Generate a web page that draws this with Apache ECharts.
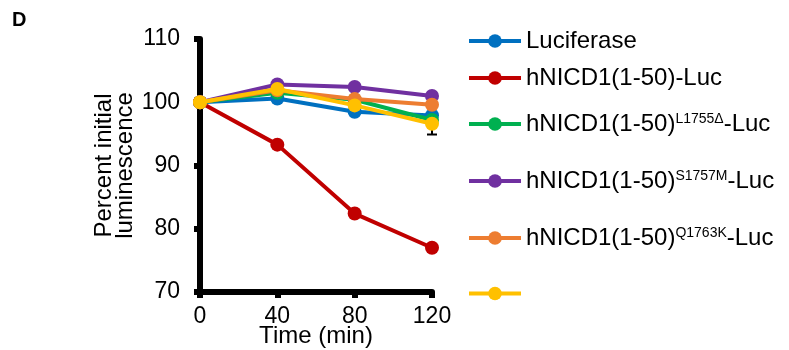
<!DOCTYPE html>
<html><head><meta charset="utf-8">
<script src="https://cdn.jsdelivr.net/npm/echarts@6/dist/echarts.min.js"></script>
<style>html,body{margin:0;padding:0;background:#fff}#c{width:789px;height:350px}</style>
</head><body><div id="c"></div>
<script>
const times = [0, 40, 80, 120];
const seriesNames = ['Luciferase', 'hNICD1(1-50)-Luc', 'hNICD1(1-50)L1755Δ-Luc', 'hNICD1(1-50)S1757M-Luc', 'hNICD1(1-50)Q1763K-Luc', ' '];
const legendLabels = ['Luciferase', '{n|hNICD1(1-50)-Luc}', '{n|hNICD1(1-50)}{sup|L1755Δ}{n|-Luc}', '{n|hNICD1(1-50)}{sup|S1757M}{n|-Luc}', '{n|hNICD1(1-50)}{sup|Q1763K}{n|-Luc}', ''];
const luciferase = [100, 100.6, 98.5, 97.9];
const hNICD1 = [100, 93.3, 82.4, 77.0];
const l1755 = [100, 101.5, 100.4, 97.2];
const s1757m = [100, 102.8, 102.4, 101.0];
const q1763k = [100, 101.9, 100.5, 99.6];
const yellow = [100, 102.1, 99.5, 96.6];
const yellowErr = [0, 0.4, 0.4, 1.7];
const colors = ['#0070C0', '#C00000', '#00B050', '#7030A0', '#ED7D31', '#FFC000'];
const yTicks = [70, 80, 90, 100, 110];
const legendTops = [24, 61, 107, 164, 221, 280];

const allData = [luciferase, hNICD1, l1755, s1757m, q1763k, yellow];
const chart = echarts.init(document.getElementById('c'));
const FONT = 'Liberation Sans, Arial, sans-serif';

const series = allData.map((d, i) => ({
  name: seriesNames[i],
  type: 'line',
  data: d.map((v, j) => [times[j], v]),
  symbol: 'circle',
  symbolSize: 14,
  color: colors[i],
  lineStyle: { width: 4, color: colors[i] },
  itemStyle: { color: colors[i] },
  z: 3 + i
}));

series.splice(5, 0, {
  type: 'custom',
  name: 'err',
  z: 2,
  renderItem: function (params, api) {
    const x = api.value(0), m = api.value(1), e = api.value(2);
    const lo = api.coord([x, m - e]), hi = api.coord([x, m + e]);
    const w = 5;
    return { type: 'group', children: [
      { type: 'line', shape: { x1: lo[0], y1: lo[1], x2: hi[0], y2: hi[1] }, style: { stroke: '#000', lineWidth: 2 } },
      { type: 'line', shape: { x1: lo[0] - w, y1: lo[1], x2: lo[0] + w, y2: lo[1] }, style: { stroke: '#000', lineWidth: 2 } },
      { type: 'line', shape: { x1: hi[0] - w, y1: hi[1], x2: hi[0] + w, y2: hi[1] }, style: { stroke: '#000', lineWidth: 2 } }
    ]};
  },
  data: yellow.map((v, j) => [times[j], v, yellowErr[j]])
});

const legends = seriesNames.map((n, i) => ({
  data: [n],
  left: 462,
  top: legendTops[i],
  orient: 'vertical',
  itemWidth: 52,
  itemHeight: 17,
  itemGap: 0,
  lineStyle: { width: 4 },
  formatter: function () { return legendLabels[i]; },
  textStyle: {
    fontFamily: FONT, fontSize: 24, color: '#000',
    rich: {
      n: { fontFamily: FONT, fontSize: 24, color: '#000' },
      sup: { fontFamily: FONT, fontSize: 14, color: '#000', verticalAlign: 'top' }
    }
  },
  selectedMode: false
}));

chart.setOption({
  animation: false,
  title: { text: 'D', left: 7, top: 5, textStyle: { fontFamily: FONT, fontSize: 20, fontWeight: 'bold', color: '#000' } },
  legend: legends,
  grid: { left: 200, right: 357, top: 39, bottom: 58, containLabel: false, outerBoundsMode: 'none' },
  xAxis: {
    type: 'value', min: 0, max: 120, interval: 40,
    name: 'Time (min)', nameLocation: 'middle', nameGap: 32, nameMoveOverlap: false,
    nameTextStyle: { fontFamily: FONT, fontSize: 24, color: '#000' },
    axisLine: { lineStyle: { color: '#000', width: 6 } },
    axisTick: { show: true, length: 6, lineStyle: { color: '#000', width: 6 } },
    axisLabel: { fontFamily: FONT, fontSize: 23, color: '#000', margin: 13 },
    splitLine: { show: false }
  },
  yAxis: {
    type: 'value', min: yTicks[0], max: yTicks[yTicks.length - 1], interval: 10,
    name: 'Percent initial\nluminescence', nameLocation: 'middle', nameGap: 64, nameRotate: 90, nameMoveOverlap: false,
    nameTextStyle: { fontFamily: FONT, fontSize: 24, color: '#000', lineHeight: 21 },
    axisLine: { lineStyle: { color: '#000', width: 6 } },
    axisTick: { show: true, length: 6, lineStyle: { color: '#000', width: 6 } },
    axisLabel: { fontFamily: FONT, fontSize: 23, color: '#000', margin: 20 },
    splitLine: { show: false }
  },
  series: series
});
</script></body></html>
